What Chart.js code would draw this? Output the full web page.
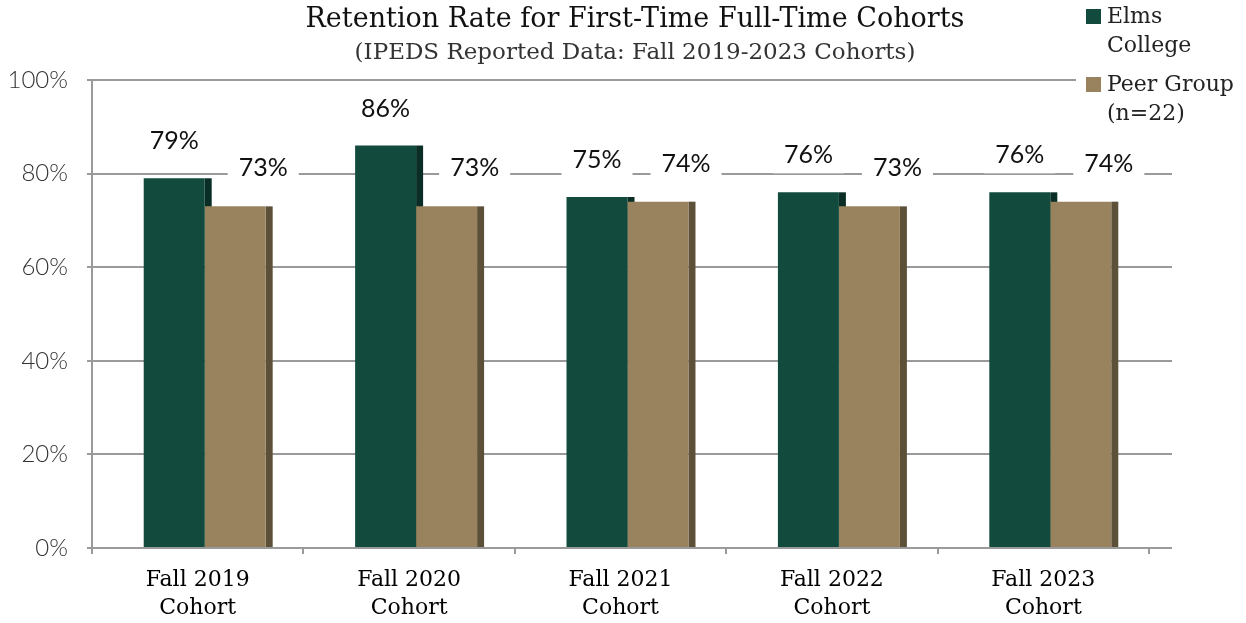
<!DOCTYPE html>
<html lang="en">
<head>
<meta charset="UTF-8">
<title>Retention Rate for First-Time Full-Time Cohorts</title>
<script src="https://cdn.jsdelivr.net/npm/chart.js@4.4.1/dist/chart.umd.min.js"></script>
<style>
  html, body { margin: 0; padding: 0; background: #fff; }
  #chart { display: block; }
</style>
</head>
<body>
<canvas id="chart" width="1246" height="623"></canvas>
<script>
// data
const cohorts = [['Fall 2019', 'Cohort'], ['Fall 2020', 'Cohort'], ['Fall 2021', 'Cohort'], ['Fall 2022', 'Cohort'], ['Fall 2023', 'Cohort']];
const elmsRates = [79, 86, 75, 76, 76];
const peerRates = [73, 73, 74, 73, 74];
const seriesNames = [['Elms', 'College'], ['Peer Group', '(n=22)']];
const chartTitle = 'Retention Rate for First-Time Full-Time Cohorts';
const chartSubtitle = '(IPEDS Reported Data: Fall 2019-2023 Cohorts)';

const GRID = '#9a9a9a';
const DEPTH = 7;      // bar faces sit this far in front of the back wall
const WALL_EXT = 23;  // gridlines run on past the last category
const SERIF = '"DejaVu Serif", serif';

const depthPlugin = {
    id: 'depth',
    beforeDatasetsDraw(chart) {
        const { ctx, chartArea, scales: { y } } = chart;
        ctx.save();
        ctx.strokeStyle = GRID;
        ctx.lineWidth = 2;
        y.ticks.forEach(t => {
            const py = Math.round(y.getPixelForValue(t.value));
            ctx.beginPath();
            ctx.moveTo(chartArea.right, py);
            ctx.lineTo(chartArea.right + WALL_EXT, py);
            ctx.stroke();
        });
        ctx.restore();

        // everything up to afterDatasetsDraw is drawn shifted forward
        ctx.save();
        ctx.translate(DEPTH, 0);
        chart.data.datasets.forEach((ds, i) => {
            ctx.fillStyle = ds.sideColor;
            chart.getDatasetMeta(i).data.forEach(bar => {
                const { x, y: top, base, width } = bar.getProps(['x', 'y', 'base', 'width']);
                ctx.fillRect(x + width / 2, top, DEPTH, base - top);
            });
        });
    },
    afterDatasetsDraw(chart) {
        const { ctx } = chart;
        ctx.font = '25px Lato, sans-serif';
        ctx.textAlign = 'center';
        ctx.textBaseline = 'middle';
        chart.data.datasets.forEach((ds, i) => {
            chart.getDatasetMeta(i).data.forEach((bar, j) => {
                const { x, y: top, width } = bar.getProps(['x', 'y', 'width']);
                const text = ds.data[j] + '%';
                const cx = i === 1 ? x + width * 0.46 : x;
                const cy = top - (i === 1 ? 38 : 37);
                const w = ctx.measureText(text).width + 22;
                ctx.fillStyle = '#fff';
                ctx.fillRect(cx - w / 2, cy - 18, w, 36);
                ctx.fillStyle = '#111';
                ctx.fillText(text, cx, cy);
            });
        });
        ctx.restore();
    },
    afterDraw(chart) {
        const { ctx, chartArea } = chart;
        ctx.save();
        // title
        const mid = (chartArea.left + chartArea.right + WALL_EXT) / 2 + 3;
        ctx.textAlign = 'center';
        ctx.textBaseline = 'middle';
        ctx.fillStyle = '#111';
        ctx.font = '27px ' + SERIF;
        ctx.fillText(chartTitle, mid, 20);
        ctx.fillStyle = '#333';
        ctx.font = '23px ' + SERIF;
        ctx.fillText(chartSubtitle, mid, 53);

        // legend
        const left = chart.width - 170;
        ctx.fillStyle = '#fff';
        ctx.fillRect(left, 0, chart.width - left, 128);
        ctx.textAlign = 'left';
        ctx.font = '22px ' + SERIF;
        chart.data.datasets.forEach((ds, i) => {
            const y0 = 17 + i * 68;
            ctx.fillStyle = ds.backgroundColor;
            ctx.fillRect(left + 10, y0 - 8, 15, 15);
            ctx.fillStyle = '#222';
            seriesNames[i].forEach((line, k) => ctx.fillText(line, left + 31, y0 + k * 29));
        });
        ctx.restore();
    }
};

new Chart(document.getElementById('chart'), {
    type: 'bar',
    data: {
        labels: cohorts,
        datasets: [
            { label: seriesNames[0].join(' '), data: elmsRates, backgroundColor: '#124b3e', sideColor: '#0a2e25' },
            { label: seriesNames[1].join(' '), data: peerRates, backgroundColor: '#98835e', sideColor: '#5d5039' }
        ]
    },
    options: {
        responsive: false,
        animation: false,
        devicePixelRatio: 1,
        categoryPercentage: 0.577,
        barPercentage: 1,
        layout: { padding: { top: 80, right: 97, bottom: 0, left: 0 } },
        plugins: {
            legend: { display: false },
            tooltip: { enabled: false }
        },
        scales: {
            x: {
                grid: { drawOnChartArea: false, drawTicks: true, tickLength: 6, color: GRID, lineWidth: 2 },
                border: { display: false },
                ticks: { color: '#000', font: { family: SERIF, size: 22, lineHeight: 1.27 }, padding: 12, maxRotation: 0 },
                afterFit(scale) { scale.height = 75; }
            },
            y: {
                min: 0,
                max: 100,
                ticks: { stepSize: 20, callback: v => v + '%', color: '#333', font: { family: 'Lato', size: 24, weight: 300 }, padding: 19 },
                grid: { color: GRID, lineWidth: 2, tickLength: 5 },
                border: { color: GRID, width: 2 },
                afterFit(scale) { scale.width = 92; }
            }
        }
    },
    plugins: [depthPlugin]
});
</script>
</body>
</html>
